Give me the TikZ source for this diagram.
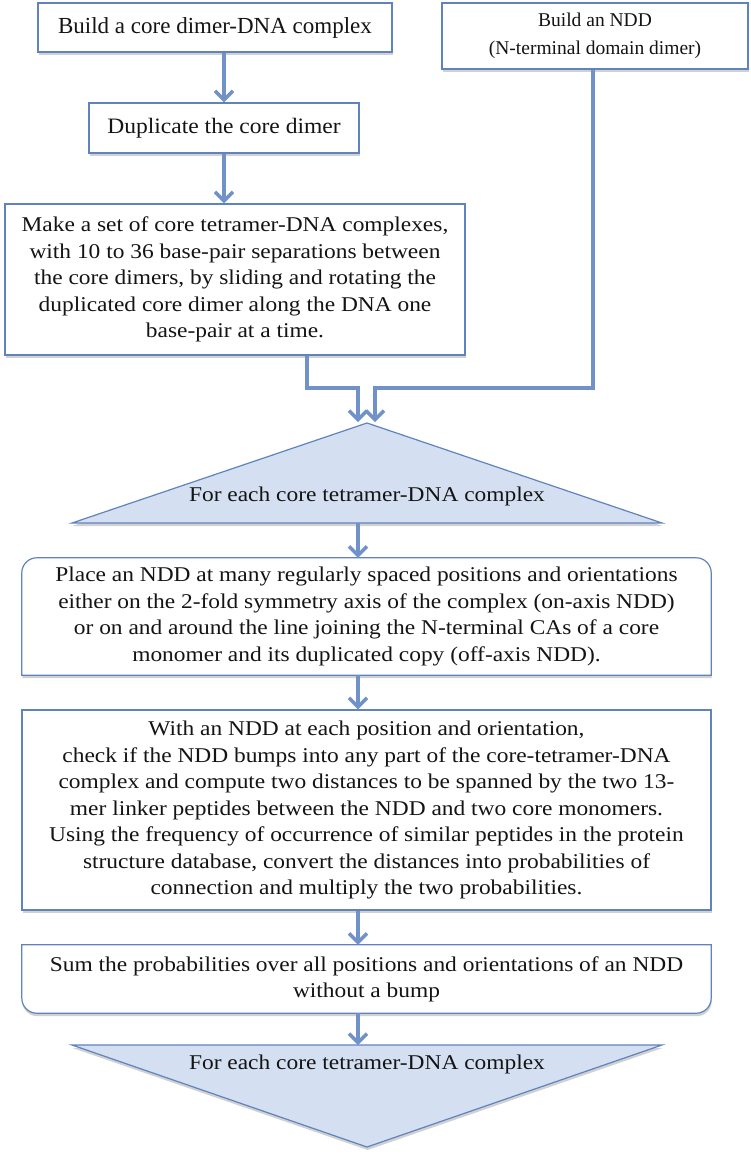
\documentclass[tikz,border=0pt]{standalone}
\usepackage{fontspec}
\setmainfont{Liberation Serif}
\newfontfamily\fA{Liberation Serif}
\newfontfamily\fB[FakeStretch=1.07]{Liberation Serif}
\newfontfamily\fC[FakeStretch=1.115]{Liberation Serif}
\usetikzlibrary{arrows.meta,shadows,calc,backgrounds}
\definecolor{arrowblue}{RGB}{112,146,201}
\definecolor{edgeblue}{RGB}{96,131,190}
\definecolor{trifill}{RGB}{212,224,241}
\definecolor{textgray}{RGB}{20,20,20}
\tikzset{
  softshadow/.style={drop shadow={shadow xshift=0.5pt, shadow yshift=-3pt, opacity=0.18, fill=black}},
  box/.style={draw=edgeblue, line width=1.2pt, fill=white, inner sep=0pt, align=center, text=textgray, softshadow},
  plainbox/.style={inner sep=0pt, align=center, text=textgray},
  frame/.style={draw=edgeblue, line width=1.2pt, fill=white, softshadow},
  tri/.style={draw=edgeblue, line width=1.2pt, fill=trifill, softshadow},
  arr/.style={draw=arrowblue, line width=3.5pt, -{Straight Barb[length=9pt,width=18pt]}},
  smallfont/.style={font=\fontsize{21}{26.5}\selectfont\fC},
}
\begin{document}
\begin{tikzpicture}[x=1pt,y=1pt]
\useasboundingbox (0,0) rectangle (750,-1154);

% boxes
\node[box, minimum width=354, minimum height=49, font=\fontsize{23}{27}\selectfont\fA] (b1) at (215,-27.5) {Build a core dimer-DNA complex};
\node[box, minimum width=270, minimum height=50, font=\fontsize{22}{27}\selectfont\fB] (b2) at (224,-128) {Duplicate the core dimer};
\node[box, minimum width=306, minimum height=66, font=\fontsize{19.5}{28}\selectfont\fA] (ndd) at (595,-36) {Build an NDD\\(N-terminal domain dimer)};
\node[box, minimum width=460, minimum height=151, smallfont] (b3) at (235,-279.5) {Make a set of core tetramer-DNA complexes,\\with 10 to 36 base-pair separations between\\the core dimers, by sliding and rotating the\\duplicated core dimer along the DNA one\\base-pair at a time.};

% top triangle
\coordinate (t1apex) at (367,-423);
\coordinate (t1L) at (72,-523);
\coordinate (t1R) at (662,-523);
\path[tri] (t1apex) -- (t1R) -- (t1L) -- cycle;
\node[plainbox, smallfont] (tri1) at (367,-496) {For each core tetramer-DNA complex};

% place box (rounded top corners)
\node[plainbox, minimum width=689, minimum height=117, smallfont] (place) at (366.5,-616.5) {Place an NDD at many regularly spaced positions and orientations\\either on the 2-fold symmetry axis of the complex (on-axis NDD)\\or on and around the line joining the N-terminal CAs of a core\\monomer and its duplicated copy (off-axis NDD).};
\begin{scope}[on background layer]
\path[frame] (place.south west) -- ($(place.north west)+(0,-15)$) arc[start angle=180,end angle=90,radius=15] -- ($(place.north east)+(-15,0)$) arc[start angle=90,end angle=0,radius=15] -- (place.south east) -- cycle;
\end{scope}

\node[box, minimum width=689, minimum height=200, smallfont] (with) at (366.5,-810) {With an NDD at each position and orientation,\\check if the NDD bumps into any part of the core-tetramer-DNA\\complex and compute two distances to be spanned by the two 13-\\mer linker peptides between the NDD and two core monomers.\\Using the frequency of occurrence of similar peptides in the protein\\structure database, convert the distances into probabilities of\\connection and multiply the two probabilities.};

% sum box (rounded bottom corners)
\node[plainbox, minimum width=689, minimum height=67, smallfont] (sum) at (366.5,-979.5) {Sum the probabilities over all positions and orientations of an NDD\\without a bump};
\begin{scope}[on background layer]
\path[frame] ([yshift=1pt]sum.north west) -- ($(sum.south west)+(0,15)$) arc[start angle=180,end angle=270,radius=15] -- ($(sum.south east)+(-15,0)$) arc[start angle=270,end angle=360,radius=15] -- ([yshift=1pt]sum.north east) -- cycle;
\end{scope}

% bottom triangle
\coordinate (t2L) at (72,-1045);
\coordinate (t2R) at (662,-1045);
\coordinate (t2apex) at (367,-1147);
\path[tri] (t2L) -- (t2R) -- (t2apex) -- cycle;
\node[plainbox, smallfont] (tri2) at (367,-1064) {For each core tetramer-DNA complex};

% connectors
\coordinate (m1) at (307,-388);
\coordinate (m2) at (593,-388);
\coordinate (inL) at (358,-422);
\coordinate (inR) at (375,-422);
\coordinate (ax) at (358,-523);
\coordinate (ax2) at (358,-1045);

\draw[arr] (b2.north |- b1.south) -- (b2.north);
\draw[arr] (b2.south) -- (b2.south |- b3.north);
\draw[arr] (b3.south -| m1) -- (m1) -| (inL);
\draw[arr] (ndd.south -| m2) -- (m2) -| (inR);
\draw[arr] (ax) -- (place.north -| ax);
\draw[arr] (place.south -| ax) -- (with.north -| ax);
\draw[arr] (with.south -| ax) -- ([yshift=1pt]sum.north -| ax);
\draw[arr] (sum.south -| ax) -- (ax2);
\end{tikzpicture}
\end{document}
